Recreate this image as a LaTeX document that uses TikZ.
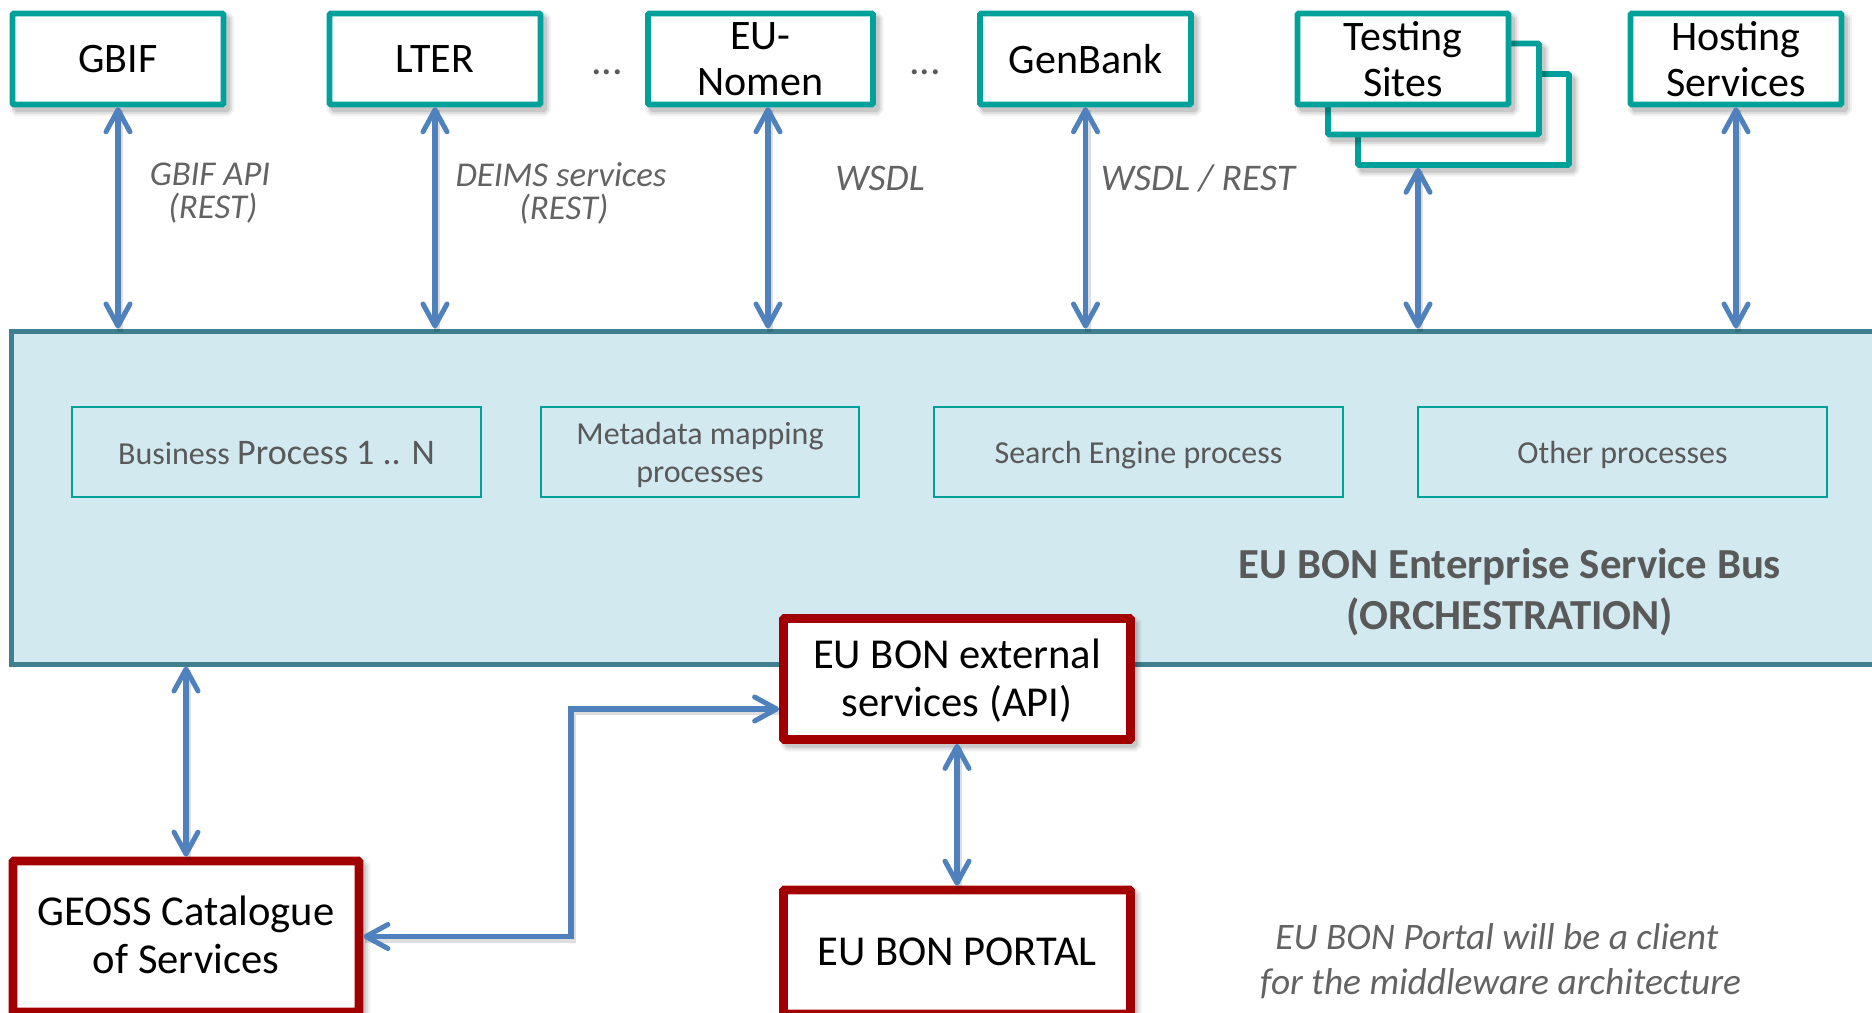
\documentclass[tikz,border=0pt]{standalone}
\usepackage{fontspec}
\setmainfont{Carlito}
\usetikzlibrary{arrows.meta}
\definecolor{teal1}{HTML}{00A19B}
\definecolor{red1}{HTML}{A20000}
\definecolor{blue1}{HTML}{4F81BD}
\definecolor{busfill}{HTML}{D3E9F0}
\definecolor{busline}{HTML}{3F7F90}
\definecolor{grey1}{HTML}{595959}
\definecolor{grey2}{HTML}{636363}
\tikzset{
  softshadow/.style={
    preaction={draw=black,opacity=.05,line width=#1+4pt,transform canvas={xshift=2pt,yshift=-2.5pt}},
    preaction={draw=black,opacity=.08,line width=#1+2pt,transform canvas={xshift=2pt,yshift=-2.5pt}},
    preaction={draw=black,opacity=.10,line width=#1,transform canvas={xshift=2pt,yshift=-2.5pt}}},
  extbox/.style={draw=teal1,line width=2.8pt,fill=white,inner sep=0pt,align=center,text=black,
    font=\fontsize{21}{23}\selectfont,softshadow=2.5pt,minimum width=105.5pt,minimum height=45.5pt,rounded corners=.5pt},
  redbox/.style={draw=red1,line width=4.4pt,fill=white,inner sep=0pt,align=center,text=black,
    font=\fontsize{21.3}{24}\selectfont,softshadow=3pt,rounded corners=.5pt},
  procbox/.style={draw=teal1,line width=.9pt,inner sep=0pt,align=center,text=grey1,text depth=0pt,
    font=\fontsize{16}{19}\selectfont,minimum height=45pt},
  lbl/.style={text=grey2,align=center,inner sep=0pt,font=\fontsize{17.4}{16.5}\itshape\selectfont},
  biggerlbl/.style={text=grey2,align=center,inner sep=0pt,font=\fontsize{18.8}{20}\itshape\selectfont},
  dots/.style={text=grey1,inner sep=0pt,anchor=base,font=\fontsize{21}{24}\selectfont},
  link/.style={draw=blue1,line width=2.6pt,
    {Straight Barb[length=11pt,width=12pt,line width=2.5pt,round]}-{Straight Barb[length=11pt,width=12pt,line width=2.5pt,round]},
    preaction={draw=black,opacity=.13,line width=3pt,-,transform canvas={xshift=1pt,yshift=-1.5pt}}}
}
\begin{document}
\begin{tikzpicture}[x=.5pt,y=-.5pt]
\useasboundingbox (0,0) rectangle (1872,1012);
\clip (0,0) rectangle (1872,1012);

% bus
\node[draw=busline,line width=2.5pt,fill=busfill,minimum width=960pt,minimum height=166.5pt,inner sep=0pt] (bus) at (971.5,497.5) {};

% top boxes
\node[extbox] (gbif) at (118,59) {GBIF};
\node[extbox] (lter) at (435,59) {LTER};
\node[extbox,minimum width=112.5pt] (nomen) at (760.5,59) {EU-\\Nomen};
\node[extbox] (genbank) at (1085.5,59) {GenBank};
\node[extbox] (site3) at (1463.5,119.5) {};
\node[extbox] (site2) at (1433.5,89) {};
\node[extbox] (sites) at (1403,59) {Testing\\Sites};
\node[extbox] (hosting) at (1736,59) {Hosting\\Services};

\node[dots] (dots1) at (607,74) {...};
\node[dots] (dots2) at (925,74) {...};

% process boxes
\node[procbox,minimum width=204.5pt] (bp) at (276.5,452) {\raisebox{-1pt}{Business {\fontsize{18}{22}\selectfont Process 1 .. N}}};
\node[procbox,minimum width=159pt] (meta) at (700,452) {Metadata mapping\\processes};
\node[procbox,minimum width=204.5pt] (search) at (1138.5,452) {Search Engine process};
\node[procbox,minimum width=204.5pt] (other) at (1622.5,452) {Other processes};

\node[text=grey1,align=center,inner sep=0pt,font=\fontsize{21.4}{25.5}\bfseries\selectfont] (esb) at (1510,592) {EU BON Enterprise Service Bus\\(ORCHESTRATION)};

% labels
\node[lbl] (l1) at (210,193) {GBIF API\\\hspace*{3pt}(REST)};
\node[lbl] (l2) at (561,193) {DEIMS services\\\hspace*{3pt}(REST)};
\node[biggerlbl] (l3) at (880,178) {WSDL};
\node[biggerlbl] (l4) at (1198,178) {WSDL / REST};

% red boxes
\node[redbox,minimum width=173.5pt,minimum height=60.5pt,text depth=1.5pt] (api) at (957,679) {EU BON external\\services (API)};
\node[redbox,minimum width=173.5pt,minimum height=62pt] (portal) at (957,952) {EU BON PORTAL};
\node[redbox,minimum width=173pt,minimum height=75.5pt,text depth=1.5pt] (geoss) at (186,936.5) {GEOSS Catalogue\\of Services};

\node[biggerlbl,font=\fontsize{18.7}{22.5}\itshape\selectfont] (note) at (1500.5,961) {EU BON Portal will be a client\hspace*{3.6pt}\\for the middleware architecture};

% helper coordinates
\coordinate (x3) at (768,0);
\coordinate (x5) at (1418,0);
\coordinate (x6) at (1736,0);
\coordinate (ex) at (571,0);
\coordinate (apiy) at (0,709);

% connectors
\draw[link] (gbif.south) -- (gbif.south |- bus.north);
\draw[link] (lter.south) -- (lter.south |- bus.north);
\draw[link] (x3 |- nomen.south) -- (x3 |- bus.north);
\draw[link] (genbank.south) -- (genbank.south |- bus.north);
\draw[link] (x5 |- site3.south) -- (x5 |- bus.north);
\draw[link] (x6 |- hosting.south) -- (x6 |- bus.north);
\draw[link] (geoss.north |- bus.south) -- (geoss.north);
\draw[link] (api.south) -- (portal.north);
\draw[link] (geoss.east) -- (ex |- geoss.east) -- (ex |- apiy) -- (api.west |- apiy);
\end{tikzpicture}
\end{document}
